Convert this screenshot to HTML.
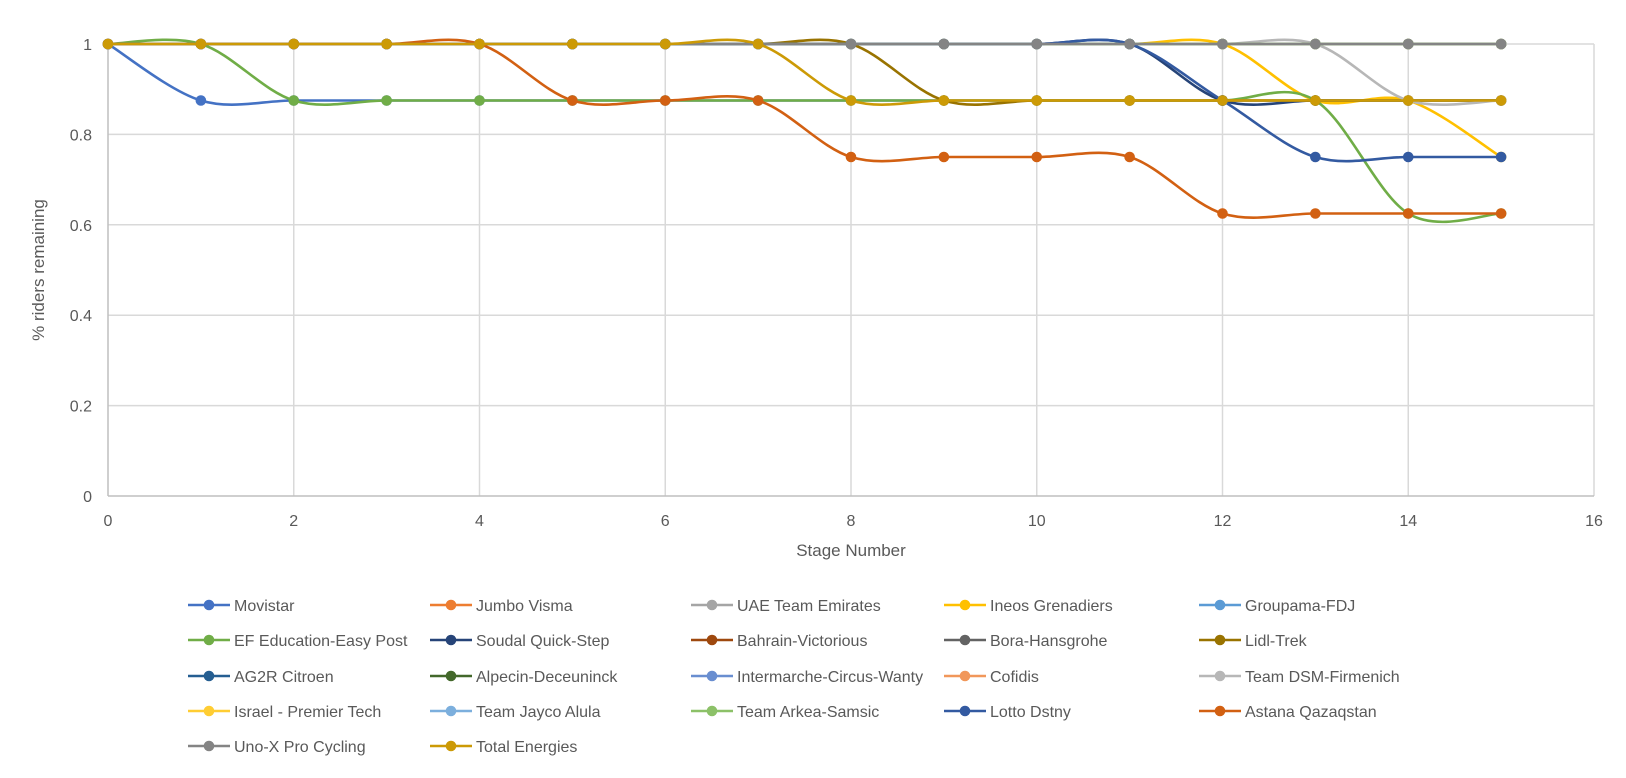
<!DOCTYPE html>
<html><head><meta charset="utf-8"><style>
body{margin:0;background:#fff;font-family:"Liberation Sans",sans-serif;}
svg text{font-family:"Liberation Sans",sans-serif;fill:#595959;}
</style></head><body>
<svg id="chart" width="1626" height="773" xmlns="http://www.w3.org/2000/svg">
<g id="grid"></g>
<g id="axes"></g>
<g id="series"></g>
<g id="legend"></g>
<text x="851" y="556" font-size="17" text-anchor="middle">Stage Number</text>
<text transform="translate(44,270) rotate(-90)" font-size="17" text-anchor="middle">% riders remaining</text>
</svg>
<script>
const stages = [0,1,2,3,4,5,6,7,8,9,10,11,12,13,14,15];
const teamNames = ["Movistar","Jumbo Visma","UAE Team Emirates","Ineos Grenadiers","Groupama-FDJ","EF Education-Easy Post","Soudal Quick-Step","Bahrain-Victorious","Bora-Hansgrohe","Lidl-Trek","AG2R Citroen","Alpecin-Deceuninck","Intermarche-Circus-Wanty","Cofidis","Team DSM-Firmenich","Israel - Premier Tech","Team Jayco Alula","Team Arkea-Samsic","Lotto Dstny","Astana Qazaqstan","Uno-X Pro Cycling","Total Energies"];
const teamColors = ["#4472C4","#ED7D31","#A5A5A5","#FFC000","#5B9BD5","#70AD47","#264478","#9E480E","#636363","#997300","#255E91","#43682B","#698ED0","#F1975A","#B7B7B7","#FFCD33","#7CAFDD","#8CC168","#335AA1","#D26012","#848484","#CC9A06"];
const sMovistar = [1,.875,.875,.875,.875,.875,.875,.875,.875,.875,.875,.875,.875,.875,.875,.875];
const sJumbo = [1,1,1,1,1,1,1,1,1,1,1,1,1,1,1,1];
const sUAE = [1,1,1,1,1,1,1,1,1,1,1,1,1,1,1,1];
const sIneos = [1,1,1,1,1,1,1,1,1,1,1,1,1,.875,.875,.75];
const sGroupama = [1,1,1,1,1,1,1,1,1,1,1,1,1,1,1,1];
const sEF = [1,1,.875,.875,.875,.875,.875,.875,.875,.875,.875,.875,.875,.875,.625,.625];
const sSoudal = [1,1,1,1,1,1,1,1,1,1,1,1,.875,.875,.875,.875];
const sBahrain = [1,1,1,1,1,1,1,1,1,1,1,1,1,1,1,1];
const sBora = [1,1,1,1,1,1,1,1,1,1,1,1,1,1,1,1];
const sLidl = [1,1,1,1,1,1,1,1,1,.875,.875,.875,.875,.875,.875,.875];
const sAG2R = [1,1,1,1,1,1,1,1,1,1,1,1,1,1,1,1];
const sAlpecin = [1,1,1,1,1,1,1,1,1,1,1,1,1,1,1,1];
const sIntermarche = [1,1,1,1,1,1,1,1,1,1,1,1,1,1,1,1];
const sCofidis = [1,1,1,1,1,1,1,1,1,1,1,1,1,1,1,1];
const sDSM = [1,1,1,1,1,1,1,1,1,1,1,1,1,1,.875,.875];
const sIsrael = [1,1,1,1,1,1,1,1,1,1,1,1,1,1,1,1];
const sJayco = [1,1,1,1,1,1,1,1,1,1,1,1,1,1,1,1];
const sArkea = [1,1,1,1,1,1,1,1,1,1,1,1,1,1,1,1];
const sLotto = [1,1,1,1,1,1,1,1,1,1,1,1,.875,.75,.75,.75];
const sAstana = [1,1,1,1,1,.875,.875,.875,.75,.75,.75,.75,.625,.625,.625,.625];
const sUnoX = [1,1,1,1,1,1,1,1,1,1,1,1,1,1,1,1];
const sTotal = [1,1,1,1,1,1,1,1,.875,.875,.875,.875,.875,.875,.875,.875];
const xTicks = [0,2,4,6,8,10,12,14,16];
const yTicks = [0,0.2,0.4,0.6,0.8,1];
const yTickLabels = ["0","0.2","0.4","0.6","0.8","1"];

const allSeries=[sMovistar,sJumbo,sUAE,sIneos,sGroupama,sEF,sSoudal,sBahrain,sBora,sLidl,sAG2R,sAlpecin,sIntermarche,sCofidis,sDSM,sIsrael,sJayco,sArkea,sLotto,sAstana,sUnoX,sTotal];
const X0=108,X1=1594,Y0=496,Y1=44;
const xs=v=>X0+(v-0)/(16-0)*(X1-X0);
const ys=v=>Y0-(v/1.0)*(Y0-Y1);
const NS="http://www.w3.org/2000/svg";
function mk(tag,attrs,parent){const e=document.createElementNS(NS,tag);for(const k in attrs)e.setAttribute(k,attrs[k]);parent.appendChild(e);return e;}
const grid=document.getElementById('grid'),axes=document.getElementById('axes'),sg=document.getElementById('series'),lg=document.getElementById('legend');
yTicks.forEach((t,i)=>{
  if(t>0){const l=mk('line',{x1:X0,x2:X1,y1:ys(t),y2:ys(t),stroke:'#d9d9d9','stroke-width':1.5},grid);
  
  }
  const tx=mk('text',{x:X0-16,y:ys(t)+6,'font-size':16,'text-anchor':'end'},axes);tx.textContent=yTickLabels[i];
  
  
});
xTicks.forEach(t=>{
  if(t>0){const l=mk('line',{x1:xs(t),x2:xs(t),y1:Y1,y2:Y0,stroke:'#d9d9d9','stroke-width':1.5},grid);
  
  }
  const tx=mk('text',{x:xs(t),y:Y0+30,'font-size':16,'text-anchor':'middle'},axes);tx.textContent=String(t);
  
  
});
const ax1=mk('line',{x1:X0,x2:X0,y1:Y1,y2:Y0,stroke:'#bfbfbf','stroke-width':1.5},axes);


const ax2=mk('line',{x1:X0,x2:X1,y1:Y0,y2:Y0,stroke:'#bfbfbf','stroke-width':1.5},axes);



function smooth(pts){
  let d=`M${pts[0][0]},${pts[0][1]}`;
  for(let i=0;i<pts.length-1;i++){
    const p0=pts[Math.max(i-1,0)],p1=pts[i],p2=pts[i+1],p3=pts[Math.min(i+2,pts.length-1)];
    const c1=[p1[0]+(p2[0]-p0[0])/6,p1[1]+(p2[1]-p0[1])/6];
    const c2=[p2[0]-(p3[0]-p1[0])/6,p2[1]-(p3[1]-p1[1])/6];
    d+=` C${c1[0]},${c1[1]} ${c2[0]},${c2[1]} ${p2[0]},${p2[1]}`;
  }
  return d;
}
allSeries.forEach((s,k)=>{
  const g=mk('g',{},sg);
  
  
  const pts=stages.map((x,i)=>[xs(x),ys(s[i])]);
  mk('path',{d:smooth(pts),fill:'none',stroke:teamColors[k],'stroke-width':2.6},g);
  pts.forEach(p=>{const c=mk('circle',{cx:p[0],cy:p[1],r:5.3,fill:teamColors[k]},g);
    
    });
});
const colX=[188,430,691,944,1199],rowY=[605,640,676,711,746];
teamNames.forEach((n,k)=>{
  const x=colX[k%5],y=rowY[Math.floor(k/5)];
  const g=mk('g',{},lg);
  
  
  mk('line',{x1:x,x2:x+42,y1:y,y2:y,stroke:teamColors[k],'stroke-width':2.6},g);
  mk('circle',{cx:x+21,cy:y,r:5.3,fill:teamColors[k]},g);
  const t=mk('text',{x:x+46,y:y+6,'font-size':16},g);t.textContent=n;
});
</script>
</body></html>
